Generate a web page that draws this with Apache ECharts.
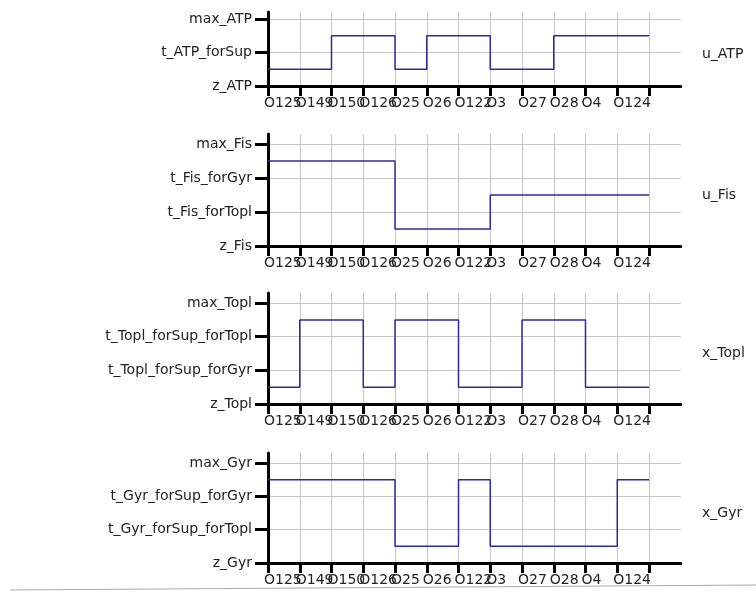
<!DOCTYPE html>
<html><head><meta charset="utf-8">
<script src="https://cdn.jsdelivr.net/npm/echarts@6/dist/echarts.min.js"></script>
<style>html,body{margin:0;padding:0;background:#fff}#c{width:756px;height:593px}</style>
</head><body><div id="c"></div>
<script>
const xLabels = ['O125','O149','O150','O126','O25','O26','O122','O3','O27','O28','O4','O124'];
const atpLevels = ['z_ATP','t_ATP_forSup','max_ATP'];
const fisLevels = ['z_Fis','t_Fis_forTopl','t_Fis_forGyr','max_Fis'];
const toplLevels = ['z_Topl','t_Topl_forSup_forGyr','t_Topl_forSup_forTopl','max_Topl'];
const gyrLevels = ['z_Gyr','t_Gyr_forSup_forTopl','t_Gyr_forSup_forGyr','max_Gyr'];
const uATP = [0.5,0.5,1.5,1.5,0.5,1.5,1.5,0.5,0.5,1.5,1.5,1.5];
const uFis = [2.5,2.5,2.5,2.5,0.5,0.5,0.5,1.5,1.5,1.5,1.5,1.5];
const xTopl = [0.5,2.5,2.5,0.5,2.5,2.5,0.5,0.5,2.5,2.5,0.5,0.5];
const xGyr = [2.5,2.5,2.5,2.5,0.5,0.5,2.5,0.5,0.5,0.5,0.5,2.5];
const seriesNames = ['u_ATP','u_Fis','x_Topl','x_Gyr'];

const panels = [
  {levels: atpLevels, data: uATP, name: seriesNames[0], top: 12, height: 74, ymax: 2.21},
  {levels: fisLevels, data: uFis, name: seriesNames[1], top: 134, height: 112, ymax: 3.29},
  {levels: toplLevels, data: xTopl, name: seriesNames[2], top: 293, height: 111, ymax: 3.3},
  {levels: gyrLevels, data: xGyr, name: seriesNames[3], top: 453, height: 110, ymax: 3.3}
];
// category slots: one per state, one closing boundary, one spare for the axis overhang
const nStates = xLabels.length;
const cats = xLabels.concat(['', '']);
const GRID_LEFT = 268, STEP = 31.75;
const GRID_W = STEP * (cats.length - 1);
const FONT = '"DejaVu Sans", sans-serif';
const gridColor = '#c6c6c6';

const grid = [], xAxis = [], yAxis = [], series = [], graphic = [];
panels.forEach((p, k) => {
  grid.push({left: GRID_LEFT, top: p.top, width: GRID_W, height: p.height});
  xAxis.push({
    type: 'category', gridIndex: k, data: cats, boundaryGap: false,
    axisLine: {show: true, onZero: false, lineStyle: {color: '#000', width: 3}},
    axisTick: {show: true, length: 10, interval: (i) => i <= nStates, lineStyle: {color: '#000', width: 3}},
    axisLabel: {show: true, interval: 0, margin: 10, align: 'left', padding: [0, 0, 0, -4],
      fontFamily: FONT, fontSize: 14, color: '#222'},
    splitLine: {show: true, interval: (i) => i <= nStates, lineStyle: {color: gridColor, width: 1}}
  });
  const yVals = p.levels.map((_, i) => i);
  yAxis.push({
    type: 'value', gridIndex: k, min: 0, max: p.ymax, interval: 1,
    axisLine: {show: true, onZero: false, lineStyle: {color: '#000', width: 3}},
    axisTick: {show: true, length: 13, customValues: yVals, lineStyle: {color: '#000', width: 3}},
    axisLabel: {show: true, customValues: yVals, margin: 16, fontFamily: FONT, fontSize: 14, color: '#222',
      showMinLabel: true, hideOverlap: false,
      formatter: v => (Number.isInteger(v) && p.levels[v] !== undefined) ? p.levels[v] : ''},
    splitLine: {show: true, lineStyle: {color: gridColor, width: 1}}
  });
  const pts = p.data.map((v, i) => [i, v]);
  pts.push([p.data.length, p.data[p.data.length - 1]]);
  series.push({
    type: 'line', name: p.name, xAxisIndex: k, yAxisIndex: k, step: 'end',
    data: pts, showSymbol: false, symbol: 'none', z: 5,
    lineStyle: {color: '#2b2b9e', width: 1.5}, animation: false
  });
  graphic.push({
    type: 'text', left: 702, top: p.top + p.height / 2 - 2,
    style: {text: p.name, font: '14px "DejaVu Sans", sans-serif', fill: '#222'}
  });
});
graphic.push({
  type: 'polyline', shape: {points: [[10, 590], [756, 585]]},
  style: {stroke: '#aaa', lineWidth: 1}, z: -1
});

const chart = echarts.init(document.getElementById('c'), null, {renderer: 'canvas'});
chart.setOption({
  backgroundColor: '#fff', animation: false,
  grid, xAxis, yAxis, series, graphic
});
</script></body></html>
